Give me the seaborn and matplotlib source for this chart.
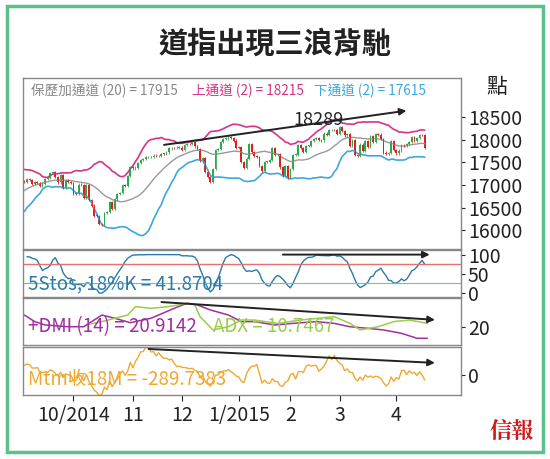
import numpy as np
import pandas as pd
import matplotlib
matplotlib.use("Agg")
import matplotlib.pyplot as plt
import seaborn as sns

sns.set_style("white")
plt.rcParams["font.family"] = ["Noto Sans CJK TC", "DejaVu Sans"]

# ---------------------------------------------------------------------------
# DATA (DJIA daily closes, Aug 2014 warm-up + Sep 4 2014 .. Apr 17 2015)
# ---------------------------------------------------------------------------
warmup_closes = [16443, 16373, 16554, 16570, 16561, 16651, 16713, 16662,
                 16839, 16920, 16980, 17039, 17001, 17077, 17107, 17122,
                 17080, 17098, 17068, 17078]
closes = [17069, 17137,
          17111, 17014, 17068, 17049, 16987,
          17031, 17131, 17157, 17266, 17280,
          17173, 17056, 17211, 16946, 17114,
          17071, 17043, 16805, 16801, 17009,
          16992, 16720, 16995, 16660, 16544,
          16321, 16316, 16142, 16117, 16381,
          16400, 16615, 16462, 16678, 16805,
          16818, 17006, 16975, 17196, 17391,
          17367, 17384, 17485, 17555, 17574,
          17614, 17615, 17613, 17652, 17635,
          17648, 17688, 17686, 17720, 17810,
          17818, 17815, 17828, 17828,
          17776, 17880, 17913, 17901, 17959,
          17853, 17801, 17533, 17597, 17281,
          17180, 17068, 17357, 17778, 17805,
          17960, 18024, 18030, 18053,
          18038, 17983, 17823, 17833,
          17501, 17372, 17584, 17908, 17737,
          17640, 17614, 17427, 17320, 17512,
          17515, 17555, 17814, 17673,
          17678, 17387, 17191, 17416, 17165,
          17361, 17666, 17673, 17885, 17824,
          17729, 17868, 17863, 17973, 18019,
          18047, 17996, 17986, 18140,
          18116, 18210, 18225, 18215, 18133,
          18288, 18204, 18097, 18136, 17857,
          17996, 17663, 17636, 17895, 17749,
          17978, 17850, 18076, 17959, 18128,
          18117, 18012, 17719, 17678, 17713,
          17976, 17776, 17698, 17763,
          17881, 17875, 17903, 17958, 18057,
          17977, 18036, 18113, 18106, 17826]

holidays = ["2014-09-01", "2014-11-27", "2014-12-25", "2015-01-01",
            "2015-01-19", "2015-02-16", "2015-04-03"]

# +DMI / ADX (trading-day index, value)
dmi_idx = [0, 4, 8, 17, 23, 30, 35, 41, 49, 58, 63, 67, 72, 79, 84, 89,
           97, 104, 113, 120, 126, 133, 139, 146, 152, 156]
dmi_val = [28.9, 24.0, 21.5, 20.2, 20.2, 28.9, 26.5, 23.2, 26.5, 33.9, 37.7,
           36.4, 32.7, 28.9, 24.0, 24.0, 21.5, 22.7, 24.0, 22.7, 20.2, 19.0,
           17.8, 15.3, 11.6, 11.6]
adx_idx = [25, 30, 40, 43, 49, 56, 63, 66, 68, 73, 79, 84, 89, 98, 107,
           120, 126, 130, 137, 143, 149, 156]
adx_val = [22.0, 24.0, 28.9, 35.2, 33.9, 35.2, 37.7, 36.4, 27.7, 17.8, 20.2,
           25.2, 25.2, 22.7, 25.2, 27.7, 22.7, 17.8, 20.2, 24.0, 25.2, 22.7]

month_labels = ["10/2014", "11", "12", "1/2015", "2", "3", "4"]

# ---------------------------------------------------------------------------
# PREP
# ---------------------------------------------------------------------------
dates = pd.bdate_range("2014-08-06", "2015-04-17")
dates = dates[~dates.isin(pd.to_datetime(holidays))]
all_c = pd.Series(warmup_closes + closes, index=dates, dtype=float)
assert len(all_c) == len(dates)
n0 = len(warmup_closes)
x_all = np.arange(len(all_c)) - n0

mid = all_c.rolling(20).mean()
sd = all_c.rolling(20).std(ddof=0)
upper, lower = mid + 2 * sd, mid - 2 * sd
hi18, lo18 = all_c.rolling(18).max(), all_c.rolling(18).min()
stoch = (100 * (all_c - lo18) / (hi18 - lo18)).rolling(5).mean()
mtm = all_c - all_c.shift(18)

df = pd.DataFrame({"x": x_all, "c": all_c.values, "mid": mid.values,
                   "up": upper.values, "lo": lower.values,
                   "stoch": stoch.values, "mtm": mtm.values})
df["o"] = df["c"].shift(1)
df = df[df["x"] >= 0]

month_pos = []
for m in ["2014-10", "2014-11", "2014-12", "2015-01", "2015-02", "2015-03", "2015-04"]:
    month_pos.append(np.argmax(dates >= pd.Timestamp(m + "-01")) - n0)

# ---------------------------------------------------------------------------
# FIGURE
# ---------------------------------------------------------------------------
fig = plt.figure(figsize=(5.5, 4.59), dpi=100)
fig.patches.append(plt.Rectangle((0.012, 0.015), 0.976, 0.972, transform=fig.transFigure,
                                 fill=False, edgecolor="#5cc08a", linewidth=2.5))
fig.text(0.5, 0.905, "道指出現三浪背馳", ha="center", va="center",
         fontsize=21, fontweight="bold", color="#222")

L, W = 0.042, 0.796
ax1 = fig.add_axes([L, 0.4575, W, 0.3725])
ax2 = fig.add_axes([L, 0.353, W, 0.1024])
ax3 = fig.add_axes([L, 0.2484, W, 0.1024])
ax4 = fig.add_axes([L, 0.1394, W, 0.1046])
XL = (-0.5, 169)

# main panel
sns.lineplot(data=df, x="x", y="up", ax=ax1, color="#d6338a", lw=1.2)
sns.lineplot(data=df, x="x", y="lo", ax=ax1, color="#3aa9dc", lw=1.2)
sns.lineplot(data=df, x="x", y="mid", ax=ax1, color="#999999", lw=1.0)
up_mask = df["c"] >= df["o"]
body = (df["c"] - df["o"]).abs().clip(lower=12)
ax1.bar(df["x"], body, bottom=np.minimum(df["o"], df["c"]), width=0.7,
        color=np.where(up_mask, "#2ca94a", "#e02020"), linewidth=0)
ax1.vlines(df["x"], np.minimum(df["o"], df["c"]) - 25, np.maximum(df["o"], df["c"]) + 25,
           color=np.where(up_mask, "#2ca94a", "#e02020"), lw=0.6)
ax1.set_ylim(15580, 19370)
ax1.set_yticks([16000, 16500, 17000, 17500, 18000, 18500])
ax1.annotate("", xy=(149, 18655), xytext=(53, 17880),
             arrowprops=dict(arrowstyle="-|>", color="#222", lw=1.4))
ax1.text(114, 18289 + 160, "18289", fontsize=13, ha="center", va="center", color="#222")
ax1.text(2.5, 19000, "保歷加通道 (20) = 17915", fontsize=9.8, color="#888")
ax1.text(65, 19000, "上通道 (2) = 18215", fontsize=9.8, color="#d6338a")
ax1.text(112, 19000, "下通道 (2) = 17615", fontsize=9.8, color="#3aa9dc")
fig.text(0.885, 0.81, "點", fontsize=15, color="#222", va="center")

# stochastic
sns.lineplot(data=df, x="x", y="stoch", ax=ax2, color="#2a7aa8", lw=1.0)
ax2.axhline(75, color="#e87070", lw=1.0)
ax2.axhline(25, color="#7cc47c", lw=0.8)
ax2.set_ylim(-10, 112)
ax2.set_yticks([0, 50, 100])
ax2.annotate("", xy=(158, 100), xytext=(99, 100),
             arrowprops=dict(arrowstyle="-|>", color="#222", lw=1.4))
ax2.text(1.5, 25, "5Stos, 18%K = 41.8704", fontsize=13.5, color="#2a7aa8", va="center")

# DMI
sns.lineplot(x=dmi_idx, y=dmi_val, ax=ax3, color="#a030a0", lw=1.1)
sns.lineplot(x=adx_idx, y=adx_val, ax=ax3, color="#9acd4a", lw=1.1)
ax3.set_ylim(6.6, 41.6)
ax3.set_yticks([20])
ax3.annotate("", xy=(160, 25.2), xytext=(52, 38.7),
             arrowprops=dict(arrowstyle="-|>", color="#222", lw=1.4))
ax3.text(1.5, 20, "+DMI (14) = 20.9142", fontsize=13.5, color="#a030a0", va="center")
ax3.text(73, 20, "ADX = 10.7467", fontsize=13.5, color="#9acd4a", va="center")

# momentum
sns.lineplot(data=df, x="x", y="mtm", ax=ax4, color="#f0a830", lw=1.0)
ax4.set_ylim(-1100, 1500)
ax4.set_yticks([0])
ax4.annotate("", xy=(160, 633), xytext=(47, 1400),
             arrowprops=dict(arrowstyle="-|>", color="#222", lw=1.4))
ax4.text(1.5, -250, "Mtm收18M = -289.7383", fontsize=13.5, color="#f0a830", va="center")

for ax in (ax1, ax2, ax3, ax4):
    ax.set_xlim(*XL)
    ax.set_xlabel("")
    ax.set_ylabel("")
    ax.yaxis.tick_right()
    ax.tick_params(axis="y", labelsize=14, length=3, right=True, pad=2, colors="#222")
    for s in ax.spines.values():
        s.set_color("#888")
        s.set_linewidth(1.0)
    if ax is not ax4:
        ax.set_xticks([])
ax4.set_xticks(month_pos)
ax4.set_xticklabels(month_labels)
ax4.tick_params(axis="x", labelsize=14, length=4, bottom=True, colors="#222")

fig.text(0.93, 0.06, "信報", fontsize=16, fontweight="bold", color="#d01818",
         ha="center", va="center", family=["Noto Serif CJK TC", "Noto Sans CJK TC"])

fig.savefig("out.png", dpi=100)
